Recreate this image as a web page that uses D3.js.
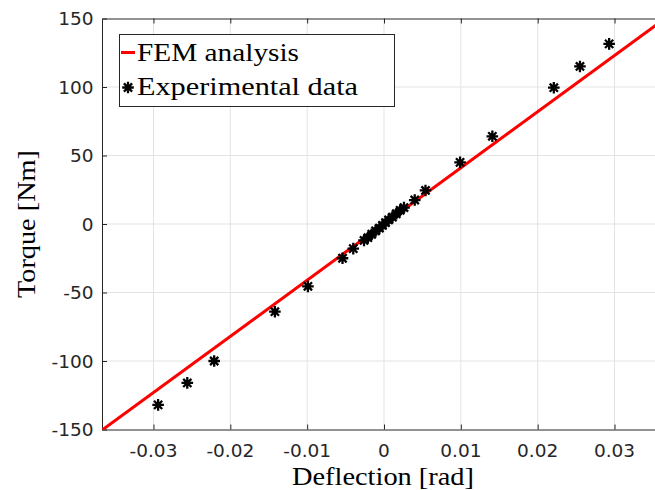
<!DOCTYPE html>
<html>
<head>
<meta charset="utf-8">
<script src="https://cdn.jsdelivr.net/npm/d3@7"></script>
<style>
  html, body { margin: 0; padding: 0; background: #fff; }
  svg { display: block; }
  .tick-label { font-family: "DejaVu Sans", sans-serif; font-size: 18.5px; fill: #262626; }
  .serif { font-family: "Liberation Serif", serif; fill: #000; }
</style>
</head>
<body>
<div id="chart"></div>
<script>
const deflection = [-0.0294, -0.0256, -0.0221, -0.0142, -0.0099, -0.0054, -0.0040,
  -0.0026, -0.0021, -0.0016, -0.0011, -0.0006, -0.0002, 0.0002, 0.0006, 0.0011,
  0.0016, 0.0021, 0.0026, 0.0040, 0.0054, 0.0099, 0.0141, 0.0221, 0.0255, 0.0293];
const torque = [-132, -116, -100, -64, -45.5, -25, -18,
  -12, -10, -7.5, -5, -3, -1, 1, 3, 5,
  7.5, 10, 12, 17.5, 24.5, 45, 64, 99.5, 115, 131.5];

// FEM line end points
const femDeflection = [-0.04, 0.04];
const femTorque = [-164, 164];

const xTicks = [-0.03, -0.02, -0.01, 0, 0.01, 0.02, 0.03];
const xTickLabels = ['-0.03', '-0.02', '-0.01', '0', '0.01', '0.02', '0.03'];
const yTicks = [-150, -100, -50, 0, 50, 100, 150];
const yTickLabels = ['-150', '-100', '-50', '0', '50', '100', '150'];

const legendLabels = ['FEM analysis', 'Experimental data'];

const W = 655, H = 490;
const margin = { top: 18.5, left: 102, bottom: 60.5 };
const plotRight = 666;
const axisColor = '#262626';

const svg = d3.select('#chart').append('svg')
  .attr('width', W).attr('height', H);

const x = d3.scaleLinear().domain([-0.0367, 0.0367]).range([margin.left, plotRight]);
const y = d3.scaleLinear().domain([-150, 150]).range([H - margin.bottom, margin.top]);

svg.append('defs').append('clipPath').attr('id', 'plot-clip')
  .append('rect')
  .attr('x', margin.left).attr('y', margin.top)
  .attr('width', plotRight - margin.left).attr('height', y(-150) - y(150));

// grid
svg.append('g').selectAll('line').data(xTicks).join('line')
  .attr('x1', d => x(d)).attr('x2', d => x(d))
  .attr('y1', y(-150)).attr('y2', y(150))
  .attr('stroke', '#e3e3e3').attr('stroke-width', 1);
svg.append('g').selectAll('line').data(yTicks.slice(1, -1)).join('line')
  .attr('x1', margin.left).attr('x2', plotRight)
  .attr('y1', d => y(d)).attr('y2', d => y(d))
  .attr('stroke', '#e3e3e3').attr('stroke-width', 1);

// axes box with inward ticks
const xAxisB = d3.axisBottom(x).tickValues(xTicks).tickSizeInner(-5).tickSizeOuter(0).tickFormat('');
const xAxisT = d3.axisTop(x).tickValues(xTicks).tickSizeInner(-5).tickSizeOuter(0).tickFormat('');
const yAxisL = d3.axisLeft(y).tickValues(yTicks).tickSizeInner(-5).tickSizeOuter(0).tickFormat('');

[
  svg.append('g').attr('transform', `translate(0,${y(-150)})`).call(xAxisB),
  svg.append('g').attr('transform', `translate(0,${y(150)})`).call(xAxisT),
  svg.append('g').attr('transform', `translate(${margin.left},0)`).call(yAxisL)
].forEach(g => {
  g.selectAll('path, line').attr('stroke', axisColor).attr('stroke-width', 1);
});

// tick labels
svg.append('g').selectAll('text').data(xTicks).join('text')
  .attr('class', 'tick-label')
  .attr('x', d => x(d)).attr('y', 457)
  .attr('text-anchor', 'middle')
  .text((d, i) => xTickLabels[i]);
svg.append('g').selectAll('text').data(yTicks).join('text')
  .attr('class', 'tick-label')
  .attr('x', 93.5).attr('y', d => y(d) + 6.7)
  .attr('text-anchor', 'end')
  .text((d, i) => yTickLabels[i]);

// axis titles (stretched a little to match the LaTeX font widths)
svg.append('text').attr('class', 'serif')
  .attr('x', 383).attr('y', 485)
  .attr('text-anchor', 'middle').attr('font-size', 25)
  .attr('textLength', 182).attr('lengthAdjust', 'spacingAndGlyphs')
  .text('Deflection [rad]');
svg.append('text').attr('class', 'serif')
  .attr('transform', `translate(35,${(y(150) + y(-150)) / 2}) rotate(-90)`)
  .attr('text-anchor', 'middle').attr('font-size', 25)
  .attr('textLength', 148).attr('lengthAdjust', 'spacingAndGlyphs')
  .text('Torque [Nm]');

// FEM line
const line = d3.line().x(d => x(d[0])).y(d => y(d[1]));
svg.append('path')
  .datum(femDeflection.map((d, i) => [d, femTorque[i]]))
  .attr('clip-path', 'url(#plot-clip)')
  .attr('d', line)
  .attr('fill', 'none')
  .attr('stroke', '#ff0000')
  .attr('stroke-width', 3);

// asterisk marker
const starPath = r => {
  let p = '';
  [0, 45, 90, 135].forEach(a => {
    const t = a * Math.PI / 180;
    const dx = r * Math.cos(t), dy = r * Math.sin(t);
    p += `M${-dx},${-dy}L${dx},${dy}`;
  });
  return p;
};

svg.append('g').selectAll('path').data(deflection.map((d, i) => [d, torque[i]])).join('path')
  .attr('transform', d => `translate(${x(d[0])},${y(d[1])})`)
  .attr('d', starPath(5.8))
  .attr('stroke', '#000')
  .attr('stroke-width', 2.3)
  .attr('fill', 'none');

// legend
const lg = svg.append('g');
lg.append('rect')
  .attr('x', 119.5).attr('y', 34.5)
  .attr('width', 275).attr('height', 72)
  .attr('fill', '#fff').attr('stroke', axisColor).attr('stroke-width', 1);
lg.append('line')
  .attr('x1', 121).attr('x2', 135).attr('y1', 52.5).attr('y2', 52.5)
  .attr('stroke', '#ff0000').attr('stroke-width', 3);
lg.append('path')
  .attr('transform', 'translate(128,87.5)')
  .attr('d', starPath(5.8))
  .attr('stroke', '#000').attr('stroke-width', 2.3);
const legendWidths = [162, 221];
lg.selectAll('text.leg').data(legendLabels).join('text')
  .attr('class', 'serif leg')
  .attr('x', 137).attr('y', (d, i) => 61 + i * 33.5)
  .attr('font-size', 25)
  .attr('textLength', (d, i) => legendWidths[i]).attr('lengthAdjust', 'spacingAndGlyphs')
  .text(d => d);
</script>
</body>
</html>
